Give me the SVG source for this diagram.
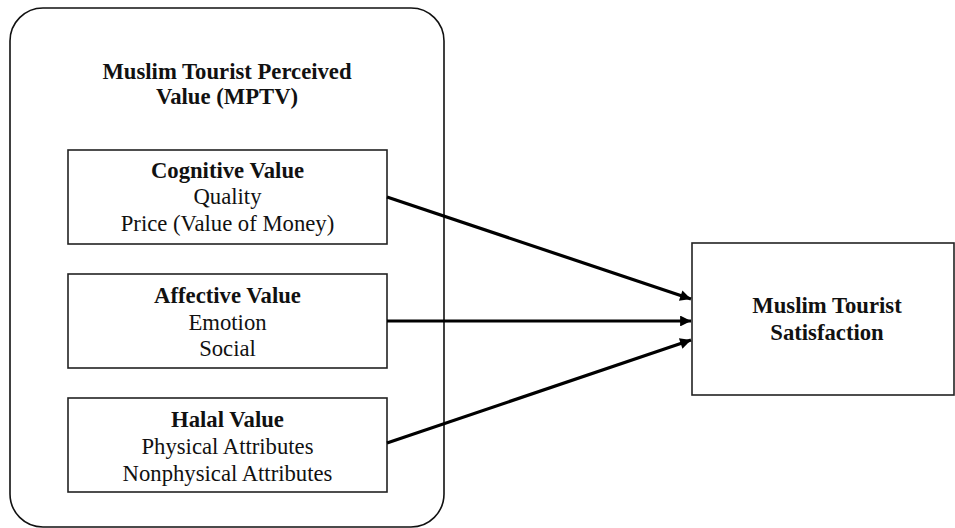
<svg xmlns="http://www.w3.org/2000/svg" width="955" height="528" viewBox="0 0 955 528">
<style>
.box{fill:#fff;stroke:#222;stroke-width:1.6}
.outer{fill:#fff;stroke:#111;stroke-width:1.6}
text{font-family:"Liberation Serif","Times New Roman",serif;font-size:22.7px;fill:#111;text-anchor:middle}
.b{font-weight:bold}
.conn{stroke:#000;stroke-width:3.2;fill:none}
</style>
<defs>
<marker id="ah" viewBox="0 0 10 10" refX="10" refY="5" markerWidth="4.2" markerHeight="3.4" markerUnits="strokeWidth" orient="auto">
<path d="M0,0 L10,5 L0,10 z" fill="#000"/>
</marker>
</defs>
<g id="mptv">
<rect class="outer" x="10" y="8" width="434" height="519" rx="33" ry="33"/>
<text class="b" x="227" y="79">Muslim Tourist Perceived</text>
<text class="b" x="227" y="104">Value (MPTV)</text>
</g>
<g id="cognitive">
<rect class="box" x="68" y="150" width="319" height="94"/>
<text class="b" x="227.5" y="178">Cognitive Value</text>
<text x="227.5" y="204">Quality</text>
<text x="227.5" y="231">Price (Value of Money)</text>
</g>
<g id="affective">
<rect class="box" x="68" y="274" width="319" height="94"/>
<text class="b" x="227.5" y="303">Affective Value</text>
<text x="227.5" y="330">Emotion</text>
<text x="227.5" y="356">Social</text>
</g>
<g id="halal">
<rect class="box" x="68" y="398" width="319" height="94"/>
<text class="b" x="227.5" y="427">Halal Value</text>
<text x="227.5" y="454">Physical Attributes</text>
<text x="227.5" y="481">Nonphysical Attributes</text>
</g>
<g id="satisfaction">
<rect class="box" x="692" y="243" width="262" height="152"/>
<text class="b" x="827" y="313">Muslim Tourist</text>
<text class="b" x="827" y="340">Satisfaction</text>
</g>
<g id="connectors">
<line class="conn" x1="387" y1="197" x2="691" y2="299" marker-end="url(#ah)"/>
<line class="conn" x1="387" y1="321" x2="691" y2="321" marker-end="url(#ah)"/>
<line class="conn" x1="387" y1="443" x2="691" y2="340" marker-end="url(#ah)"/>
</g>
</svg>
